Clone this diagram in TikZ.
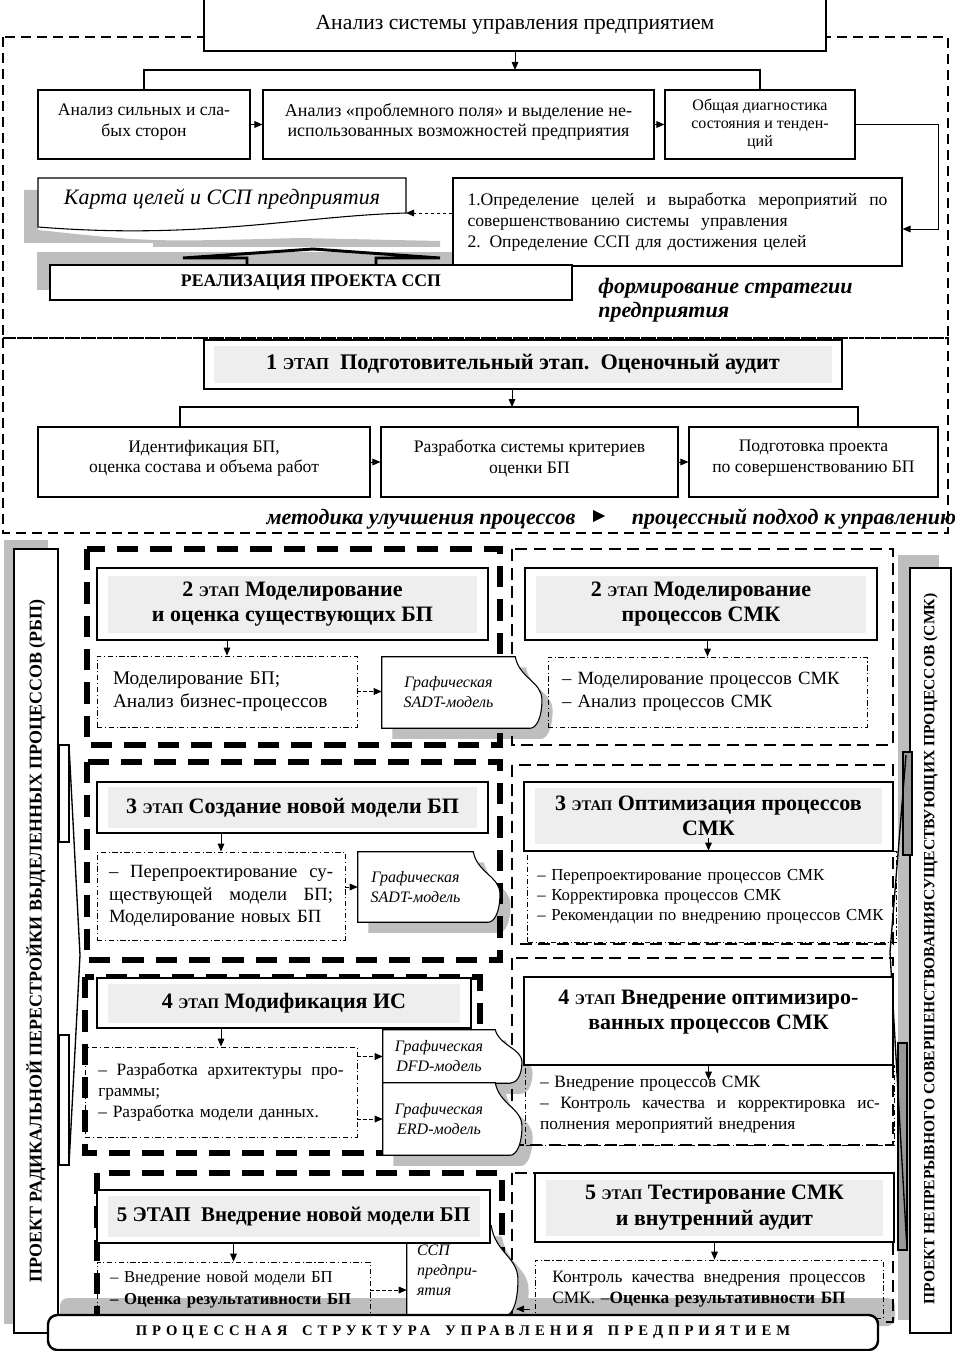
\documentclass[tikz,border=0pt]{standalone}
\usepackage{fontspec}
\setmainfont{Liberation Serif}
\newfontfamily\barfamily[LetterSpace=34]{Liberation Serif}
\usetikzlibrary{arrows.meta,calc,positioning}
\definecolor{shadegray}{HTML}{BEBEBE}
\definecolor{headgray}{HTML}{EEEEEE}
\pgfdeclarelayer{shad}
\pgfdeclarelayer{frm}
\pgfdeclarelayer{shp}
\pgfsetlayers{shad,frm,shp,main}

\newcommand\hdfont{\fontsize{16.5}{19}\selectfont\bfseries}
\newcommand\ddfont{\fontsize{14}{17}\selectfont}
\newcommand\ddfontb{\fontsize{13}{15.8}\selectfont}
\newcommand\etap{{\fontsize{11}{13}\selectfont ЭТАП}}
\newcommand\jl[2]{\leavevmode\hbox to #1{\spaceskip=.3em plus 1fil\relax #2}}
% torn-edge document outline round a node
\newcommand{\docpath}[3]{%
  \path[#1] let \p1=($(#2.north west)+(#3)$), \p2=($(#2.south east)+(#3)$),
    \n1={\y1-\y2} in
    (\x1,\y1) -- (\x2,\y1)
    .. controls (\x2+3pt,\y1-0.3*\n1) and (\x2+20pt,\y1-0.35*\n1) .. (\x2+20pt,\y1-0.6*\n1)
    .. controls (\x2+20pt,\y1-0.85*\n1) and (\x2+16pt,\y2) .. (\x2+11pt,\y2)
    -- (\x1,\y2) -- cycle;}

\begin{document}
\begin{tikzpicture}[x=0.75pt, y=-0.75pt,
    font=\fontsize{13.2}{15.5}\selectfont,
    sz/.style 2 args={minimum width=#1*0.75pt, minimum height=#2*0.75pt},
    box/.style={draw, fill=white, line width=0.8pt, align=center, inner sep=2pt},
    hdbox/.style={draw, fill=white, line width=1.1pt, inner sep=0pt},
    hdfill/.style={fill=headgray, inner sep=0pt, align=center, font=\hdfont},
    ddbox/.style={draw, line width=0.6pt, inner sep=0pt, align=left,
      dash pattern=on 4pt off 2pt on 0.8pt off 2pt},
    doctext/.style={font=\fontsize{12}{15}\selectfont\itshape, align=center, inner sep=0pt},
    shd/.style={fill=shadegray},
    secframe/.style={line width=1.6pt, dash pattern=on 7.5pt off 4.5pt},
    bpframe/.style={line width=3.8pt, dash pattern=on 16pt off 9pt},
    smkframe/.style={line width=2pt, dash pattern=on 9pt off 5pt},
    arr/.style={-{Triangle[length=6pt, width=5pt]}, line width=0.7pt},
    dotarr/.style={arr, dash pattern=on 2.5pt off 2pt},
    bus/.style={line width=0.8pt}
  ]
  \useasboundingbox (0,0) rectangle (955,1351);

  % ---- frames
  \begin{pgfonlayer}{frm}
    \draw[secframe] (3,37) rectangle (948,338);
    \draw[secframe] (3,338) rectangle (948,533);
    \draw[bpframe] (87,549) rectangle (500,745);
    \draw[bpframe] (87,762) rectangle (500,960);
    \draw[bpframe] (85,977) rectangle (480,1153);
    \draw[bpframe] (97,1173) rectangle (502,1318);
    \draw[smkframe] (512,549) rectangle (893,745);
    \draw[smkframe] (512,765) rectangle (893,944);
    \draw[smkframe] (512,958) rectangle (893,1145);
    \draw[smkframe] (512,1173) rectangle (893,1322);
  \end{pgfonlayer}

  % ---- shadows
  \begin{pgfonlayer}{shad}
    \fill[shd] (24,190) -- (38,190) -- (38,230) .. controls (150,242) .. (300,238)
      -- (440,241) -- (440,247) -- (153,247) -- (153,243) -- (24,243) -- cycle;
    \fill[shd] (37,252) rectangle (559,290);
    \fill[shd] (4,540) rectangle (48,1324);
    \fill[shd] (898,555) rectangle (939,1320);
    \fill[shd, rounded corners=6pt] (60,1298) rectangle (895,1326);
  \end{pgfonlayer}

  % ---- strategy part
  \node[box, sz={622}{52}, font=\fontsize{16.2}{18}\selectfont] (top) at (515,25)
    {Анализ системы управления предприятием};
  \node[box, sz={212}{69}] (s1a) at (144,124.5) {Анализ сильных и сла-\\бых сторон\\[-8.7pt]};
  \node[box, sz={391}{69}, font=\fontsize{13.5}{15.5}\selectfont] (s1b) at (458.5,124.5)
    {Анализ «проблемного поля» и выделение не-\\использованных возможностей предприятия\\[-8.7pt]};
  \node[box, sz={190}{69}, font=\fontsize{12}{13.5}\selectfont] (s1c) at (760,124.5)
    {Общая диагностика\\состояния и тенден-\\ций};
  \node[box, sz={449}{88}, align=left, text width=315pt] (goals) at (677.5,222)
    {\jl{315pt}{1.Определение целей и выработка мероприятий по}\\
     совершенствованию системы\ \ управления\\
     2. Определение ССП для достижения целей\\[4pt]};
  \node[font=\fontsize{16.5}{18}\selectfont\itshape] (karta) at (222,199)
    {Карта целей и ССП предприятия};
  \coordinate (kartaR) at (406,213);
  \begin{pgfonlayer}{shp}
    \draw[fill=white, line width=0.8pt] (38,178) -- (406,178) -- (kartaR)
      .. controls (300,216) and (200,240) .. (38,227) -- cycle;
  \end{pgfonlayer}
  \node[box, sz={522}{35}, line width=2pt, font=\fontsize{13.3}{14}\selectfont\bfseries]
    (realiz) at (311,282.5) {РЕАЛИЗАЦИЯ ПРОЕКТА ССП};
  \draw[line width=2.2pt] (247,265) |- (183,258) -- (313,249) -- (440,258) -| (376,265);
  \node[anchor=west, align=left, inner sep=0pt,
    font=\fontsize{16.5}{18}\selectfont\bfseries\itshape] (strat) at (598,300)
    {формирование стратегии\\предприятия};

  \coordinate (j1) at (515,70);
  \draw[arr] (top.south) -- (j1);
  \draw[bus] (s1a.north) |- (j1) -| (s1c.north);
  \draw[arr] (s1a) -- (s1b);
  \draw[arr] (s1b) -- (s1c);
  \draw[arr] (s1c.east) -- ++(83,0) |- ([yshift=-5.25pt]goals.east);
  \draw[dotarr] ([yshift=6.75pt]goals.west) -- (kartaR);

  % ---- stage 1
  \node[hdbox, sz={638}{49}] (e1) at (523,364.5) {};
  \node[hdfill, sz={618}{37}, font=\fontsize{16.7}{19}\selectfont\bfseries] (e1t) at (e1)
    {1 {\fontsize{12.5}{14}\selectfont ЭТАП}\ \ Подготовительный этап.\ \ Оценочный аудит};
  \node[box, sz={332}{70}] (b1) at (204,462) {Идентификация БП,\\оценка состава и объема работ\\[-7.3pt]};
  \node[box, sz={297}{70}] (b2) at (529.5,462) {Разработка системы критериев\\оценки БП\\[-7.3pt]};
  \node[box, sz={249}{70}] (b3) at (813.5,462) {Подготовка проекта\\по совершенствованию БП\\[-7.3pt]};
  \coordinate (j2) at (512,407);
  \coordinate (j2l) at (180,407);
  \coordinate (j2r) at (858,407);
  \draw[arr] (j2 |- e1.south) -- (j2);
  \draw[bus] (j2l |- b1.north) -- (j2l) -- (j2r) -- (j2r |- b3.north);
  \draw[arr] (b1) -- (b2);
  \draw[arr] (b2) -- (b3);
  \node[inner sep=0pt, font=\fontsize{16.5}{18}\selectfont\bfseries\itshape] (meth) at (421,519)
    {методика улучшения процессов};
  \node[inner sep=0pt, font=\fontsize{16.5}{18}\selectfont\bfseries\itshape] (appr) at (794,519)
    {процессный подход к управлению};
  \fill (593,510) -- (605,516) -- (593,522) -- cycle;

  % ---- side projects
  \node[box, sz={44}{784}, line width=1.5pt] (rbp) at (36,941) {};
  \node[rotate=90, font=\fontsize{13.5}{15}\selectfont\bfseries] (rbpt) at (rbp)
    {ПРОЕКТ РАДИКАЛЬНОЙ ПЕРЕСТРОЙКИ ВЫДЕЛЕННЫХ ПРОЦЕССОВ (РБП)};
  \node[box, sz={41}{765}, line width=1.5pt] (smk) at (930.5,950.5) {};
  \node[rotate=90, font=\fontsize{11.7}{14}\selectfont\bfseries] (smkt) at (930.5,949)
    {ПРОЕКТ НЕПРЕРЫВНОГО СОВЕРШЕНСТВОВАНИЯСУЩЕСТВУЮЩИХ ПРОЦЕССОВ (СМК)};
  \draw[line width=1.2pt, fill=white] (59,745) rectangle (69,842);
  \draw[line width=1.2pt, fill=white] (59,1035) rectangle (69,1165);
  \draw[line width=1pt] (69,745) -- (80,955) -- (69,1165);
  \draw[line width=1.2pt, fill=black!40] (903,752) rectangle (912,855);
  \draw[line width=1.2pt, fill=black!40] (898,1043) rectangle (907,1250);
  \draw[line width=1pt] (906,755) -- (890,952) -- (907,1250);

  % ---- stage 2
  \node[hdbox, sz={391}{72}] (hL2) at (292.5,604) {};
  \node[hdfill, sz={369}{57}] (hL2t) at (hL2) {2 \etap\ Моделирование\\и оценка существующих БП};
  \node[ddbox, sz={260}{71}, text width=171pt, font=\fontsize{14.5}{17}\selectfont] (dL2)
    at (227,691.5) {Моделирование БП;\\Анализ бизнес-процессов};
  \node[doctext, sz={133}{71}] (gL2) at (448.5,692.5) {Графическая\\SADT-модель};
  \draw[arr] (dL2.north |- hL2.south) -- (dL2.north);
  \draw[dotarr] (dL2.east) -- (dL2.east -| gL2.west);

  \node[hdbox, sz={352}{72}] (hR2) at (701,604) {};
  \node[hdfill, sz={330}{57}] (hR2t) at (hR2) {2 \etap\ Моделирование\\процессов СМК};
  \node[ddbox, sz={319}{70}, text width=218pt, font=\ddfont] (dR2) at (707.5,692)
    {– Моделирование процессов СМК\\– Анализ процессов СМК};
  \draw[arr] (dR2.north |- hR2.south) -- (dR2.north);

  % ---- stage 3
  \node[hdbox, sz={391}{51}] (hL3) at (292.5,807.5) {};
  \node[hdfill, sz={369}{41}] (hL3t) at (hL3) {3 \etap\ Создание новой модели БП};
  \node[ddbox, sz={248}{88}, text width=168pt, font=\ddfont] (dL3) at (221,896)
    {\jl{168pt}{– Перепроектирование су-}\\\jl{168pt}{ществующей модели БП;}\\Моделирование новых БП};
  \node[doctext, sz={115}{70}] (gL3) at (415.5,887) {Графическая\\SADT-модель};
  \draw[arr] (dL3.north |- hL3.south) -- (dL3.north);
  \draw[dotarr] (dL3.east |- gL3) -- (gL3.west);

  \node[hdbox, sz={369}{69}] (hR3) at (708.5,816.5) {};
  \node[hdfill, sz={347}{56}] (hR3t) at (708.5,815.5) {3 \etap\ Оптимизация процессов\\СМК};
  \node[ddbox, sz={369}{91}, text width=262pt, font=\fontsize{12.6}{15}\selectfont] (dR3)
    at (712,896.5)
    {– Перепроектирование процессов СМК\\– Корректировка процессов СМК\\
     – Рекомендации по внедрению процессов СМК};
  \draw[arr] ([yshift=4pt]hR3t.south) -- (hR3t.south |- dR3.north);

  % ---- stage 4
  \node[hdbox, sz={374}{50}] (hL4) at (284,1003) {};
  \node[hdfill, sz={352}{39}] (hL4t) at (hL4) {4 \etap\ Модификация ИС};
  \node[ddbox, sz={272}{90}, text width=184pt, font=\ddfontb] (dL4) at (221,1092)
    {\jl{184pt}{– Разработка архитектуры про-}\\граммы;\\– Разработка модели данных.};
  \node[doctext, sz={112}{53}] (gDFD) at (439,1056.5) {Графическая\\DFD-модель};
  \node[doctext, sz={112}{72}] (gERD) at (439,1119) {Графическая\\ERD-модель};
  \draw[arr] (dL4.north |- hL4.south) -- (dL4.north);
  \draw[dotarr] (dL4.east |- gDFD) -- (gDFD.west);
  \draw[dotarr] (dL4.east |- gERD) -- (gERD.west);

  \node[hdbox, sz={369}{88}] (hR4) at (708.5,1021) {};
  \node[font=\hdfont, align=center, inner sep=0pt] (hR4t) at (708.5,1012)
    {4 \etap\ Внедрение оптимизиро-\\ванных процессов СМК};
  \node[ddbox, sz={369}{80}, text width=255pt, font=\ddfontb] (dR4) at (710,1105)
    {– Внедрение процессов СМК\\\jl{255pt}{– Контроль качества и корректировка ис-}\\
     полнения мероприятий внедрения};
  \draw[arr] (hR4.south) -- ++(0,14);

  % ---- stage 5
  \node[hdbox, sz={393}{53}] (hL5) at (293.5,1216.5) {};
  \node[hdfill, sz={372}{41}, font=\fontsize{15.7}{18}\selectfont\bfseries] (hL5t) at (hL5)
    {5 ЭТАП\ \ Внедрение новой модели БП};
  \node[ddbox, sz={273}{56}, text width=185pt, font=\fontsize{12.5}{16.5}\selectfont] (dL5)
    at (233.5,1290) {– Внедрение новой модели БП\\\textbf{– Оценка результативности БП}};
  \node[doctext, align=left, text width=48pt, sz={84}{89}] (gL5) at (449,1270.5)
    {ССП\\предпри-\\ятия};
  \draw[arr] (dL5.north |- hL5.south) -- (dL5.north);
  \draw[dotarr] (dL5.east) -- (dL5.east -| gL5.west);

  \node[hdbox, sz={359}{69}] (hR5) at (714.5,1207.5) {};
  \node[hdfill, sz={337}{56}] (hR5t) at (hR5) {5 \etap\ Тестирование СМК\\и внутренний аудит};
  \node[ddbox, sz={348}{58}, text width=235pt, font=\ddfontb] (dR5) at (709,1289)
    {\jl{235pt}{Контроль качества внедрения процессов}\\СМК. –\textbf{Оценка результативности БП}};
  \draw[arr] (hR5.south) -- (hR5.south |- dR5.north);

  % ---- document shapes
  \begin{pgfonlayer}{shad}
    \docpath{fill=shadegray}{gL2}{8pt,-8pt}
    \docpath{fill=shadegray}{gL3}{8pt,-8pt}
    \docpath{fill=shadegray}{gDFD}{8pt,-8pt}
    \docpath{fill=shadegray}{gERD}{8pt,-8pt}
    \docpath{fill=shadegray}{gL5}{8pt,-8pt}
  \end{pgfonlayer}
  \begin{pgfonlayer}{shp}
    \docpath{draw, fill=white, line width=0.8pt}{gL2}{0pt,0pt}
    \docpath{draw, fill=white, line width=0.8pt}{gL3}{0pt,0pt}
    \docpath{draw, fill=white, line width=0.8pt}{gDFD}{0pt,0pt}
    \docpath{draw, fill=white, line width=0.8pt}{gERD}{0pt,0pt}
    \docpath{draw, fill=white, line width=0.8pt}{gL5}{0pt,0pt}
  \end{pgfonlayer}

  % ---- process structure bar
  \node[draw, fill=white, line width=1.8pt, rounded corners=7pt, sz={830}{35},
    font=\barfamily\fontsize{11}{13}\selectfont\bfseries] (bar) at (463,1332.5)
    {ПРОЦЕССНАЯ\hspace{1em}СТРУКТУРА\hspace{1em}УПРАВЛЕНИЯ\hspace{1em}ПРЕДПРИЯТИЕМ};
  \coordinate (barin) at (530,1309);
  \draw[arr, line width=0.5pt] (barin) -- ++(-14,0);
\end{tikzpicture}
\end{document}
